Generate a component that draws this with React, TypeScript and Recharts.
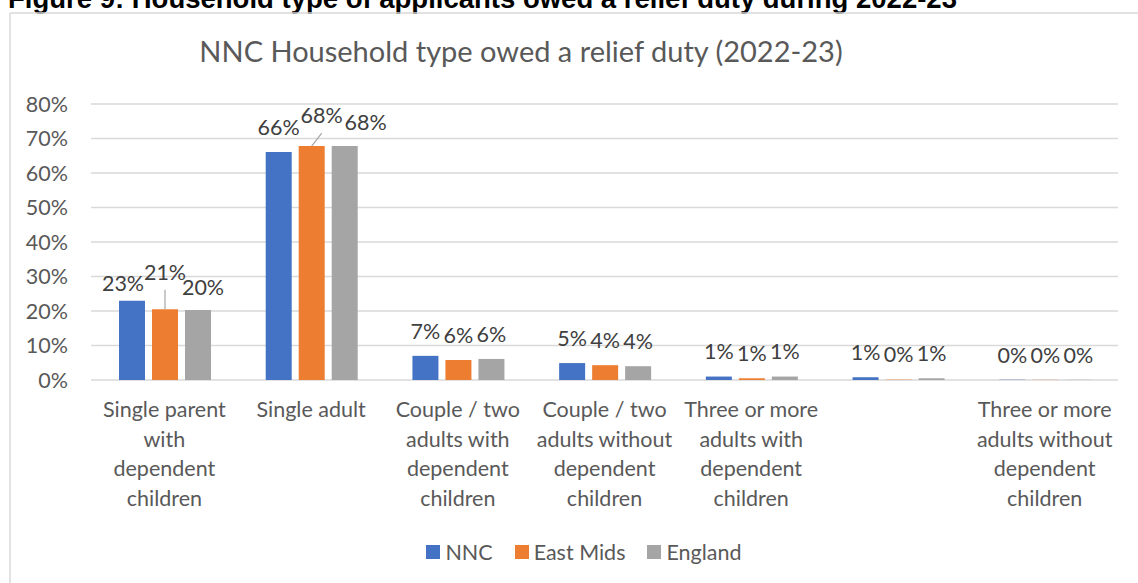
import React from 'react';
import { BarChart, Bar, XAxis, YAxis, CartesianGrid, Legend, LabelList } from 'recharts';

const figureTitle = 'Figure 9: Household type of applicants owed a relief duty during 2022-23';
const chartTitle = 'NNC Household type owed a relief duty (2022-23)';

const categories = [
  'Single parent\nwith\ndependent\nchildren',
  'Single adult',
  'Couple / two\nadults with\ndependent\nchildren',
  'Couple / two\nadults without\ndependent\nchildren',
  'Three or more\nadults with\ndependent\nchildren',
  '',
  'Three or more\nadults without\ndependent\nchildren',
];
const nncValues = [23.0, 66.1, 7.0, 4.9, 1.0, 0.8, 0.05];
const eastMidsValues = [20.5, 67.8, 5.8, 4.3, 0.5, 0.1, 0.05];
const englandValues = [20.3, 67.8, 6.1, 4.0, 1.0, 0.5, 0.05];
const yTicks = [0, 10, 20, 30, 40, 50, 60, 70, 80];
const seriesKeys = ['nnc', 'eastMids', 'england'];
const seriesNames = ['NNC', 'East Mids', 'England'];
const seriesColors = ['#4472C4', '#ED7D31', '#A5A5A5'];

const data = categories.map((c, i) => ({
  category: c,
  nnc: nncValues[i],
  eastMids: eastMidsValues[i],
  england: englandValues[i],
}));

const FONT = 'Lato';
const TEXT_SIZE = 21.5;
const AXIS_COLOR = '#595959';
const LABEL_COLOR = '#404040';
const GRID_COLOR = '#D9D9D9';
const LABEL_RISE = 25;

// label placement tweaks (style only)
const labelNudges: Record<string, Record<number, { dx: number; dy: number; leader?: boolean }>> = {
  nnc: { 0: { dx: -9, dy: 8 } },
  eastMids: { 0: { dx: 0, dy: -12.5, leader: true }, 1: { dx: 10, dy: -6, leader: true } },
  england: { 0: { dx: 5, dy: 2 }, 1: { dx: 21, dy: 1 } },
};

const makeLabel = (key: string) => (props: any) => {
  const { x, y, width, value, index } = props;
  const n = (labelNudges[key] && labelNudges[key][index]) || { dx: 0, dy: 0 };
  const cx = Number(x) + Number(width) / 2;
  const top = Number(y);
  const tx = cx + n.dx;
  const ty = top - LABEL_RISE + n.dy;
  return (
    <g>
      {n.leader && (
        <line x1={cx} y1={top} x2={tx} y2={ty + 18} stroke="#A6A6A6" strokeWidth={1.2} />
      )}
      <text
        x={tx}
        y={ty}
        dy="0.36em"
        textAnchor="middle"
        fill={LABEL_COLOR}
        fontSize={TEXT_SIZE}
        fontFamily={FONT}
      >
        {Math.round(Number(value))}%
      </text>
    </g>
  );
};

const CategoryTick = (props: any) => {
  const { x, y, payload } = props;
  const lines = String(payload.value).split('\n');
  return (
    <g>
      {lines.map((l, i) => (
        <text
          key={i}
          x={x}
          y={y + 37 + i * 29.5}
          textAnchor="middle"
          fill={AXIS_COLOR}
          fontSize={TEXT_SIZE}
          fontFamily={FONT}
        >
          {l}
        </text>
      ))}
    </g>
  );
};

const LegendContent = () => (
  <div
    style={{
      height: 24,
      width: '100%',
      display: 'flex',
      alignItems: 'center',
      justifyContent: 'center',
      paddingLeft: 30,
      boxSizing: 'border-box',
      fontFamily: FONT,
      fontSize: TEXT_SIZE,
      color: AXIS_COLOR,
    }}
  >
    {seriesNames.map((name, i) => (
      <div
        key={name}
        style={{ display: 'flex', alignItems: 'center', marginRight: i < seriesNames.length - 1 ? 22 : 0 }}
      >
        <div style={{ width: 14, height: 14, background: seriesColors[i], marginRight: 5 }} />
        <span>{name}</span>
      </div>
    ))}
  </div>
);

export default function App() {
  return (
    <div style={{ position: 'absolute', left: 0, top: 0, width: 1138, height: 583, background: '#fff', overflow: 'hidden' }}>
      <svg width={1138} height={583} style={{ position: 'absolute', left: 0, top: 0 }}>
        <text x={8} y={7.5} fontFamily="Liberation Sans" fontWeight="bold" fontSize={27.5} fill="#000">
          {figureTitle}
        </text>
        <line x1={10} y1={13} x2={1138} y2={13} stroke={GRID_COLOR} strokeWidth={1.5} />
        <line x1={10} y1={13} x2={10} y2={583} stroke={GRID_COLOR} strokeWidth={1.5} />
        <text x={521} y={62} textAnchor="middle" fontFamily={FONT} fontSize={29} fill={AXIS_COLOR}>
          {chartTitle}
        </text>
      </svg>
      <div style={{ position: 'absolute', left: 0, top: 0 }}>
        <BarChart
          width={1138}
          height={583}
          data={data}
          margin={{ top: 104, right: 20, left: 0, bottom: 19 }}
          barCategoryGap={28}
          barGap={7}
        >
          <CartesianGrid vertical={false} stroke={GRID_COLOR} strokeWidth={1.5} />
          <XAxis
            dataKey="category"
            interval={0}
            axisLine={false}
            tickLine={false}
            tickSize={0}
            tickMargin={0}
            height={160}
            tick={<CategoryTick />}
          />
          <YAxis
            width={91}
            domain={[0, 80]}
            ticks={yTicks}
            tickFormatter={(v: number) => `${v}%`}
            axisLine={false}
            tickLine={false}
            tickSize={0}
            tickMargin={23}
            tick={{ fill: AXIS_COLOR, fontSize: TEXT_SIZE, fontFamily: FONT }}
          />
          <Legend
            verticalAlign="bottom"
            content={() => <LegendContent />}
            wrapperStyle={{ left: 0, width: 1138, bottom: 19 }}
          />
          {seriesKeys.map((k, i) => (
            <Bar key={k} dataKey={k} name={seriesNames[i]} fill={seriesColors[i]} isAnimationActive={false}>
              <LabelList dataKey={k} content={makeLabel(k)} />
            </Bar>
          ))}
        </BarChart>
      </div>
    </div>
  );
}
